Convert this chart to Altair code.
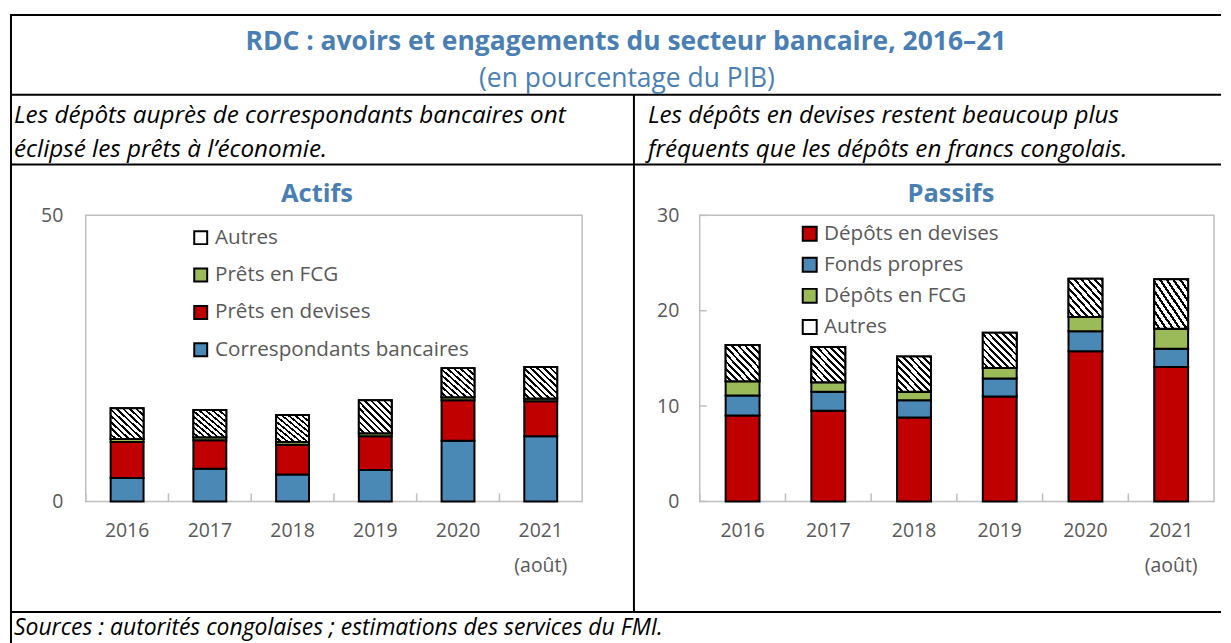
import altair as alt
import pandas as pd

# ---------------- data ----------------
years = ["2016", "2017", "2018", "2019", "2020", "2021"]

# Actifs (percent of GDP)
act_series = ["Correspondants bancaires", "Prêts en devises", "Prêts en FCG", "Autres"]
act_corr = [4.1, 5.7, 4.7, 5.5, 10.6, 11.4]
act_dev = [6.3, 5.0, 5.2, 5.9, 7.1, 6.1]
act_fcg = [0.5, 0.5, 0.5, 0.5, 0.5, 0.5]
act_autres = [5.4, 4.8, 4.7, 5.8, 5.1, 5.5]
act_legend = ["Autres", "Prêts en FCG", "Prêts en devises", "Correspondants bancaires"]

# Passifs (percent of GDP)
pas_series = ["Dépôts en devises", "Fonds propres", "Dépôts en FCG", "Autres"]
pas_dev = [9.0, 9.5, 8.8, 11.0, 15.75, 14.1]
pas_fonds = [2.1, 2.0, 1.8, 1.9, 2.1, 1.9]
pas_fcg = [1.5, 1.0, 0.9, 1.1, 1.5, 2.1]
pas_autres = [3.8, 3.7, 3.7, 3.7, 4.0, 5.2]
pas_yticks = [0, 10, 20, 30]

BLUE = "#4a88b6"
RED = "#c00000"
GREEN = "#9bbb59"
TITLE_BLUE = "#4a7fb5"
GREY = "#595959"
FRAME = "#bfbfbf"
FONT = "Open Sans"


def long_df(series, cols):
    rows = []
    for s_i, (name, vals) in enumerate(zip(series, cols)):
        for y, v in zip(years, vals):
            rows.append({"year": y, "series": name, "value": v, "order": s_i})
    return pd.DataFrame(rows)


act_df = long_df(act_series, [act_corr, act_dev, act_fcg, act_autres])
pas_df = long_df(pas_series, [pas_dev, pas_fonds, pas_fcg, pas_autres])

# hatch pattern approximated with a striped gradient
stops = []
N = 10
for i in range(N):
    a, b, c = i / N, (i + 0.6) / N, (i + 1) / N
    stops += [
        alt.GradientStop(offset=a, color="white"),
        alt.GradientStop(offset=b, color="white"),
        alt.GradientStop(offset=b, color="black"),
        alt.GradientStop(offset=c, color="black"),
    ]
hatch = alt.LinearGradient(gradient="linear", stops=stops, x1=0, y1=1, x2=1, y2=0)

dummy = pd.DataFrame({"d": [0]})
W_L, W_R, H = 498, 516, 287


def panel(df, width, ymax, yvals, ypad, legend_domain, legend_range, legend_x, legend_y,
          row_pad, sym_size, bar_w, title, title_x, inner_yticks=None):
    base = alt.Chart(df).transform_stack(
        stack="value", as_=["y0", "y1"], groupby=["year"],
        sort=[alt.SortField("order", order="ascending")],
    )
    yscale = alt.Scale(domain=[0, ymax], nice=False)
    yaxis = alt.Axis(title=None, values=yvals, domain=False, ticks=False,
                     grid=False, labelPadding=ypad)
    x = alt.X("year:N", scale=alt.Scale(paddingInner=0, paddingOuter=0),
              axis=alt.Axis(title=None, domain=False, ticks=False, labelAngle=0,
                            labelPadding=20, labelLineHeight=35,
                            labelExpr="datum.value == '2021' ? ['2021', '(août)'] : datum.value"))
    y = alt.Y("y0:Q", scale=yscale, axis=yaxis)
    bars = base.mark_bar(width=bar_w, stroke="black", strokeWidth=2).encode(
        x=x, y=y, y2="y1:Q",
        color=alt.Color("series:N",
                        scale=alt.Scale(domain=legend_domain, range=legend_range),
                        legend=alt.Legend(title=None, orient="none", legendX=legend_x,
                                          legendY=legend_y, symbolType="square",
                                          symbolSize=sym_size, symbolStrokeColor="black",
                                          symbolStrokeWidth=2, labelFont=FONT,
                                          labelFontSize=20.7, labelColor=GREY,
                                          labelLimit=0, labelOffset=4,
                                          rowPadding=row_pad, padding=0)),
    )
    hatched = base.mark_bar(width=bar_w, stroke="black", strokeWidth=2, fill=hatch).encode(
        x="year:N", y="y0:Q", y2="y1:Q"
    ).transform_filter(alt.datum.series == "Autres")
    ticks = alt.Chart(pd.DataFrame({"year": years})).mark_rule(
        color=FRAME, strokeWidth=1.5
    ).encode(x=alt.X("year:N", bandPosition=0), y=alt.value(H - 8), y2=alt.value(H))
    ttl = alt.Chart(dummy).mark_text(
        text=title, font=FONT, fontSize=25.5, fontWeight="bold", color=TITLE_BLUE,
        align="center", baseline="middle"
    ).encode(x=alt.value(title_x), y=alt.value(-21))
    layers = [bars, hatched, ticks, ttl]
    if inner_yticks is not None:
        yt = alt.Chart(pd.DataFrame({"y0": inner_yticks})).mark_rule(
            color=FRAME, strokeWidth=1.5
        ).encode(y=alt.Y("y0:Q", scale=yscale, axis=yaxis), x=alt.value(0), x2=alt.value(7))
        layers.append(yt)
    return layers


def hline(y, x1, x2):
    return alt.Chart(dummy).mark_rule(color="black", strokeWidth=2).encode(
        x=alt.value(x1), x2=alt.value(x2), y=alt.value(y))


def vline(x, y1, y2):
    return alt.Chart(dummy).mark_rule(color="black", strokeWidth=2).encode(
        x=alt.value(x), y=alt.value(y1), y2=alt.value(y2))


def txt(s, x, y, size, align="left", style="normal", weight="normal", color="black"):
    return alt.Chart(dummy).mark_text(
        text=s, font=FONT, fontSize=size, fontStyle=style, fontWeight=weight,
        color=color, align=align, baseline="middle"
    ).encode(x=alt.value(x), y=alt.value(y))


left_layers = panel(act_df, W_L, 50, [0, 50], 23, act_legend,
                    ["white", GREEN, RED, BLUE], 105, 12, 15.5, 169, 33, "Actifs", 232)
right_layers = panel(pas_df, W_R, 30, [0, 10, 20, 30], 21, pas_series,
                     [RED, BLUE, GREEN, "white"], 100, 8, 8.2, 196, 34, "Passifs", 252,
                     inner_yticks=pas_yticks)

decor = [
    hline(-201, -76, 1139),
    hline(-121, -76, 1139),
    hline(-51, -76, 1139),
    hline(398, -76, 1139),
    vline(-75, -202, 430),
    vline(550, -121, 398),
    txt("RDC : avoirs et engagements du secteur bancaire, 2016–21", 542, -174, 26.5,
        align="center", weight="bold", color=TITLE_BLUE),
    txt("(en pourcentage du PIB)", 543, -137, 26.5, align="center", color=TITLE_BLUE),
    txt("Les dépôts auprès de correspondants bancaires ont", -72, -100, 24.3, style="italic"),
    txt("éclipsé les prêts à l’économie.", -72, -66, 24.3, style="italic"),
    txt("Les dépôts en devises restent beaucoup plus", 564, -100, 24.3, style="italic"),
    txt("fréquents que les dépôts en francs congolais.", 564, -66, 24.3, style="italic"),
    txt("Sources : autorités congolaises ; estimations des services du FMI.", -72, 414, 23,
        style="italic"),
]

left = alt.layer(*left_layers, *decor).properties(width=W_L, height=H)
right = alt.layer(*right_layers).properties(width=W_R, height=H)

chart = alt.hconcat(left, right, spacing=118, bounds="flush").resolve_scale(
    color="independent", x="independent", y="independent"
).configure_view(stroke=FRAME, strokeWidth=1.5).configure_axis(
    labelFont=FONT, labelFontSize=19.5, labelColor=GREY
).properties(padding={"left": 0, "top": 3, "right": 0, "bottom": 0}, background="white")

chart.save("out.html", embed_options={"renderer": "svg", "actions": False})
